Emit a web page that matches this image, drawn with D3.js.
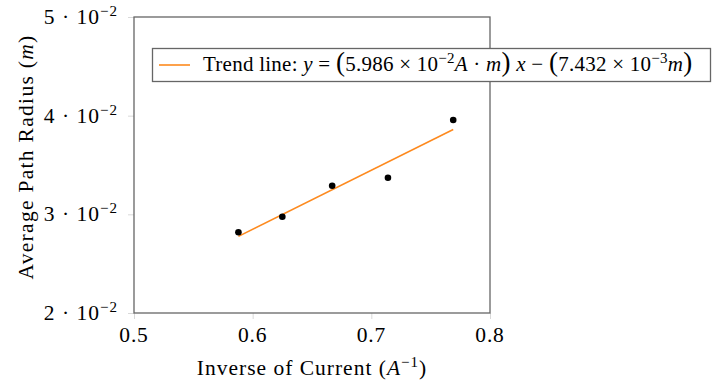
<!DOCTYPE html>
<html>
<head>
<meta charset="utf-8">
<script src="https://cdn.jsdelivr.net/npm/d3@7"></script>
<style>
  body { margin: 0; background: #fff; }
  svg { font-family: "Liberation Serif", "DejaVu Serif", serif; }
</style>
</head>
<body>
<svg id="chart" width="712" height="381"></svg>
<script>
// data
var inverseCurrent = [0.588, 0.625, 0.667, 0.714, 0.769]
var pathRadius = [0.02818, 0.02976, 0.0329, 0.03371, 0.03956]
var slope = 5.986e-2
var intercept = -7.432e-3
var xTicks = [0.5, 0.6, 0.7, 0.8]
var yTicks = [0.02, 0.03, 0.04, 0.05]
var yTickMantissa = ["2", "3", "4", "5"]

var svg = d3.select("#chart")
var plotLeft = 134, plotRight = 490, plotTop = 17, plotBottom = 313
var fontSize = 21.5

var x = d3.scaleLinear().domain([0.5, 0.8]).range([plotLeft, plotRight])
var y = d3.scaleLinear().domain([0.02, 0.05]).range([plotBottom, plotTop])

// writes a list of pieces into a text element (italic, superscript, bigger parens)
function writeMath(textSel, pieces) {
    pieces.forEach(function(p) {
        let ts = textSel.append("tspan").text(p.t)
        if (p.it) ts.style("font-style", "italic")
        if (p.size) ts.style("font-size", p.size + "px")
        if (p.sup) {
            ts.attr("dy", -8).style("font-size", "15px")
        }
        if (p.down) ts.attr("dy", 8)
    })
}

// axes with light outward ticks
var xAxis = d3.axisBottom(x).tickValues(xTicks).tickSize(6).tickFormat("")
var yAxis = d3.axisLeft(y).tickValues(yTicks).tickSize(6).tickFormat("")

var gx = svg.append("g").attr("transform", "translate(0," + plotBottom + ")").call(xAxis)
var gy = svg.append("g").attr("transform", "translate(" + plotLeft + ",0)").call(yAxis)
gx.select(".domain").remove()
gy.select(".domain").remove()
svg.selectAll(".tick line").attr("stroke", "#d9d9d9").attr("stroke-width", 1)

// frame
svg.append("rect")
    .attr("x", plotLeft).attr("y", plotTop)
    .attr("width", plotRight - plotLeft).attr("height", plotBottom - plotTop)
    .attr("fill", "none").attr("stroke", "#666").attr("stroke-width", 1.3)

// x tick labels
svg.selectAll(".xlab").data(xTicks).enter().append("text")
    .attr("class", "xlab")
    .attr("x", d => x(d)).attr("y", 342)
    .attr("text-anchor", "middle")
    .style("font-size", fontSize + "px")
    .style("letter-spacing", "0.8px")
    .text(d => d.toFixed(1))

// y tick labels: "5 · 10^-2"
yTicks.forEach(function(d, i) {
    let t = svg.append("text")
        .attr("x", 118).attr("y", y(d) + 7)
        .attr("text-anchor", "end")
        .style("font-size", fontSize + "px")
        .style("letter-spacing", "1px")
    writeMath(t, [{t: yTickMantissa[i] + " · 10"}, {t: "−2", sup: true}])
})

// axis titles
var xt = svg.append("text")
    .attr("x", (plotLeft + plotRight) / 2).attr("y", 375)
    .attr("text-anchor", "middle")
    .style("font-size", fontSize + "px")
    .style("letter-spacing", "1px")
writeMath(xt, [{t: "Inverse of Current ("}, {t: "A", it: true}, {t: "−1", sup: true}, {t: ")", down: true}])

var yt = svg.append("text")
    .attr("transform", "translate(33,157) rotate(-90)")
    .attr("text-anchor", "middle")
    .style("font-size", fontSize + "px")
    .style("letter-spacing", "1.3px")
writeMath(yt, [{t: "Average Path Radius ("}, {t: "m", it: true}, {t: ")"}])

// trend line
var x0 = d3.min(inverseCurrent), x1 = d3.max(inverseCurrent)
svg.append("line")
    .attr("x1", x(x0)).attr("y1", y(slope * x0 + intercept))
    .attr("x2", x(x1)).attr("y2", y(slope * x1 + intercept))
    .attr("stroke", "#fd8a1f").attr("stroke-width", 1.6)

// data points
svg.selectAll(".pt").data(inverseCurrent).enter().append("circle")
    .attr("class", "pt")
    .attr("cx", d => x(d))
    .attr("cy", (d, i) => y(pathRadius[i]))
    .attr("r", 3.3)
    .attr("fill", "black")

// legend
var lg = svg.append("g")
lg.append("rect")
    .attr("x", 152.5).attr("y", 48.5)
    .attr("width", 558).attr("height", 33)
    .attr("fill", "white").attr("stroke", "#666").attr("stroke-width", 1.3)
lg.append("line")
    .attr("x1", 159).attr("x2", 190).attr("y1", 65).attr("y2", 65)
    .attr("stroke", "#fd8a1f").attr("stroke-width", 1.6)
var lt = lg.append("text").attr("x", 203).attr("y", 71)
    .style("font-size", "21px").style("letter-spacing", "0.25px")
writeMath(lt, [
    {t: "Trend line:  "}, {t: "y", it: true}, {t: " = "},
    {t: "(", size: 27}, {t: "5.986 × 10"}, {t: "−2", sup: true},
    {t: "A", it: true, down: true}, {t: " · "}, {t: "m", it: true}, {t: ")", size: 27},
    {t: " "}, {t: "x", it: true}, {t: " − "},
    {t: "(", size: 27}, {t: "7.432 × 10"}, {t: "−3", sup: true},
    {t: "m", it: true, down: true}, {t: ")", size: 27}
])
</script>
</body>
</html>
